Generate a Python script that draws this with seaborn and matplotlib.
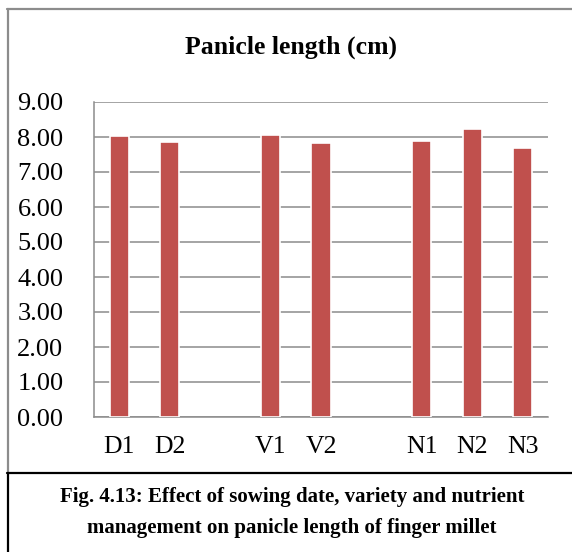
import matplotlib
matplotlib.use("Agg")
import matplotlib.pyplot as plt
from matplotlib.lines import Line2D
import seaborn as sns
import pandas as pd

# Treatments and mean panicle length (cm)
treatments = ["D1", "D2", "V1", "V2", "N1", "N2", "N3"]
panicle_length = [8.04, 7.86, 8.06, 7.82, 7.89, 8.24, 7.70]
# Category order, with empty slots separating the factor groups
slot_order = ["D1", "D2", " ", "V1", "V2", "  ", "N1", "N2", "N3"]
y_ticks = [0, 1, 2, 3, 4, 5, 6, 7, 8, 9]

sns.set_theme(style="white")
plt.rcParams["font.family"] = ["Liberation Serif", "DejaVu Serif"]
plt.rcParams["text.color"] = "black"

W, H = 572, 552
fig = plt.figure(figsize=(W / 100, H / 100), dpi=100)
ax = fig.add_axes([94 / W, 1 - 417 / H, (548 - 94) / W, (417 - 102) / H])

df = pd.DataFrame({"treatment": treatments, "length": panicle_length})
sns.barplot(data=df, x="treatment", y="length", order=slot_order,
            color="#C0504D", saturation=1, width=0.38,
            edgecolor="white", linewidth=1.2, ax=ax, zorder=3)

ax.set_ylim(0, 9)
ax.set_xlim(-0.5, 8.5)
ax.set_yticks(y_ticks)
ax.set_yticklabels([f"{v:.2f}" for v in y_ticks])
ax.set_xlabel("")
ax.set_ylabel("")
ax.yaxis.grid(True, color="#8c8c8c", linewidth=1.1, zorder=0)
ax.set_axisbelow(True)
for side in ["top", "right"]:
    ax.spines[side].set_visible(False)
for side in ["left", "bottom"]:
    ax.spines[side].set_color("#8c8c8c")
    ax.spines[side].set_linewidth(1.1)
ax.tick_params(axis="y", length=0, pad=22, labelsize=19, labelcolor="black")
ax.tick_params(axis="x", length=0, pad=14, labelsize=18.5, labelcolor="black")

# Chart title
fig.text(291 / W, 1 - 47 / H, "Panicle length (cm)", ha="center", va="center",
         fontsize=18.5, fontweight="bold", color="black")

# Chart frame (grey) and caption box (black)
def fig_line(xs, ys, color, lw):
    fig.add_artist(Line2D([x / W for x in xs], [1 - y / H for y in ys],
                          transform=fig.transFigure, color=color, linewidth=lw))

fig_line([7, W + 2], [9, 9], "#8c8c8c", 1.6)
fig_line([7.5, 7.5], [9, 473], "#8c8c8c", 1.6)
fig_line([7, W + 2], [473, 473], "black", 1.6)
fig_line([7.5, 7.5], [473, H + 2], "black", 1.6)

# Figure caption
fig.text(292 / W, 1 - 497 / H,
         "Fig. 4.13: Effect of sowing date, variety and nutrient",
         ha="center", va="center", fontsize=15, fontweight="bold", color="black")
fig.text(292 / W, 1 - 528 / H,
         "management on panicle length of finger millet",
         ha="center", va="center", fontsize=15, fontweight="bold", color="black")

fig.savefig("out.png", dpi=100)
